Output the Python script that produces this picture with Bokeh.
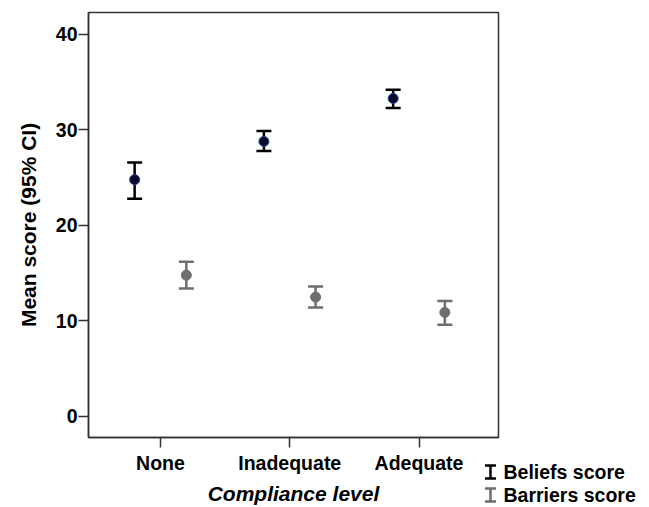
from bokeh.plotting import figure
from bokeh.layouts import column
from bokeh.models import ColumnDataSource, Whisker, TeeHead, Range1d, FixedTicker
from bokeh.core.properties import value
from bokeh.embed import file_html
from bokeh.resources import INLINE

categories = ["None", "Inadequate", "Adequate"]
beliefs_mean = [24.8, 28.8, 33.3]
beliefs_lower = [22.8, 27.8, 32.3]
beliefs_upper = [26.6, 29.9, 34.2]
barriers_mean = [14.8, 12.5, 10.9]
barriers_lower = [13.4, 11.4, 9.6]
barriers_upper = [16.2, 13.6, 12.1]
y_ticks = [0, 10, 20, 30, 40]
series_names = ["Beliefs score", "Barriers score"]

FONT = "Liberation Sans"
DODGE = 0.2
W, H = 649, 507
group_x = [i + 1 for i in range(len(categories))]

p = figure(width=W, height=H, output_backend="svg", toolbar_location=None,
           x_range=Range1d(0.443, 3.615), y_range=Range1d(-2.2, 42.3),
           min_border_left=88, min_border_right=151, min_border_top=12, min_border_bottom=70)
p.frame_align = False
p.xgrid.visible = False
p.ygrid.visible = False
p.outline_line_color = "#333333"
p.outline_line_width = 1.5
p.background_fill_color = "white"
p.border_fill_color = "white"

colors = [("black", "#0b0b2e", "#2b3f8f"), ("#6e6e6e", "#6e6e6e", "#6e6e6e")]
series = [
    (beliefs_mean, beliefs_lower, beliefs_upper, -DODGE),
    (barriers_mean, barriers_lower, barriers_upper, DODGE),
]
for (mean, lo, up, off), (bar_col, fill, edge) in zip(series, colors):
    src = ColumnDataSource(dict(x=[g + off for g in group_x], y=mean, lower=lo, upper=up))
    w = Whisker(source=src, base="x", upper="upper", lower="lower", dimension="height",
                line_color=bar_col, line_width=2.5,
                upper_head=TeeHead(size=15, line_color=bar_col, line_width=2.5),
                lower_head=TeeHead(size=15, line_color=bar_col, line_width=2.5))
    p.add_layout(w)
    p.scatter("x", "y", source=src, size=10, fill_color=fill, line_color=edge, line_width=1)

# axes
p.xaxis.ticker = FixedTicker(ticks=group_x)
p.xaxis.major_label_overrides = {g: c for g, c in zip(group_x, categories)}
p.yaxis.ticker = FixedTicker(ticks=y_ticks)
for ax in (p.xaxis[0], p.yaxis[0]):
    ax.major_label_text_font = FONT
    ax.major_label_text_font_style = "bold"
    ax.major_label_text_font_size = "19.5px"
    ax.major_label_text_color = "black"
    ax.axis_label_text_font = FONT
    ax.axis_label_text_font_size = "21px"
    ax.axis_label_text_color = "black"
    ax.minor_tick_line_color = None
    ax.major_tick_in = 0
    ax.major_tick_out = 10
    ax.major_tick_line_color = "#333333"
    ax.major_tick_line_width = 1.5
    ax.axis_line_color = "#333333"
    ax.axis_line_width = 1.5
p.xaxis.axis_label = "Compliance level"
p.xaxis.axis_label_text_font_style = "bold italic"
p.xaxis.axis_label_standoff = 5
p.xaxis.major_label_standoff = 4
p.yaxis.axis_label = "Mean score (95% CI)"
p.yaxis.axis_label_text_font_style = "bold"
p.yaxis.axis_label_standoff = 13
p.yaxis.major_label_standoff = 1

# legend as a full-width transparent figure overlaid on the bottom strip (pixel units)
leg = figure(width=W, height=46, output_backend="svg", toolbar_location=None,
             x_axis_location=None, y_axis_location=None,
             x_range=Range1d(0, W), y_range=Range1d(-1.5, 0.5),
             min_border=0, margin=(-47, 0, 0, 0))
leg.frame_align = False
leg.grid.visible = False
leg.outline_line_color = None
leg.background_fill_alpha = 0
leg.border_fill_alpha = 0
idx = [-i for i in range(len(series_names))]
for i, (bar_col, _, _) in enumerate(colors):
    lsrc = ColumnDataSource(dict(x=[490], lower=[idx[i] - 0.28], upper=[idx[i] + 0.28]))
    leg.add_layout(Whisker(source=lsrc, base="x", upper="upper", lower="lower", dimension="height",
                           line_color=bar_col, line_width=2.5,
                           upper_head=TeeHead(size=11, line_color=bar_col, line_width=2.5),
                           lower_head=TeeHead(size=11, line_color=bar_col, line_width=2.5)))
leg.text(x=[503] * len(series_names), y=idx, text=series_names, text_font=value(FONT),
         text_font_style="bold", text_font_size="19.5px", text_color="black",
         text_baseline="middle", text_align="left")

layout = column(p, leg, spacing=0)
open("out.html", "w").write(file_html(layout, INLINE))
